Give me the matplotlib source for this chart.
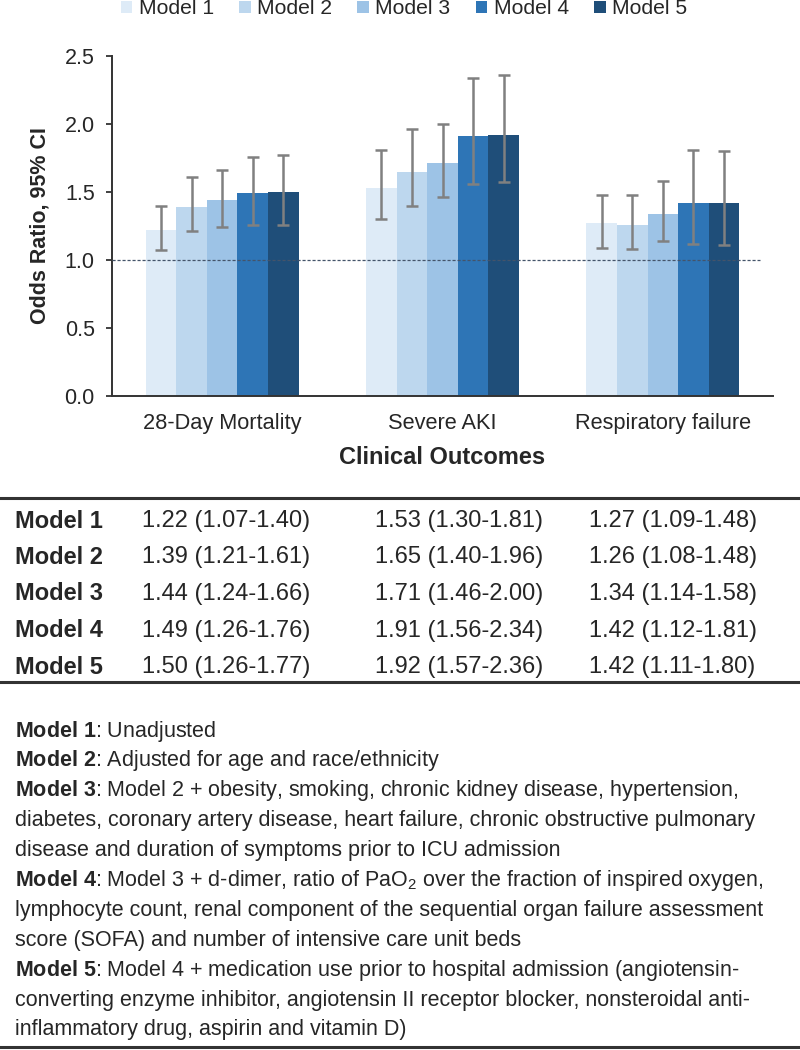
import matplotlib
matplotlib.use("Agg")
import numpy as np
import matplotlib.pyplot as plt
from matplotlib.patches import Patch

plt.rcParams["font.family"] = ["Liberation Sans", "DejaVu Sans"]
plt.rcParams["mathtext.fontset"] = "custom"
plt.rcParams["mathtext.rm"] = "Liberation Sans"
plt.rcParams["mathtext.bf"] = "Liberation Sans:bold"
plt.rcParams["mathtext.it"] = "Liberation Sans:italic"

# ── data ────────────────────────────────────────────────────────────────────
outcomes = ["28-Day Mortality", "Severe AKI", "Respiratory failure"]
models = ["Model 1", "Model 2", "Model 3", "Model 4", "Model 5"]

or_mortality = [1.22, 1.39, 1.44, 1.49, 1.50]
lo_mortality = [1.07, 1.21, 1.24, 1.26, 1.26]
hi_mortality = [1.40, 1.61, 1.66, 1.76, 1.77]

or_aki = [1.53, 1.65, 1.71, 1.91, 1.92]
lo_aki = [1.30, 1.40, 1.46, 1.56, 1.57]
hi_aki = [1.81, 1.96, 2.00, 2.34, 2.36]

or_resp = [1.27, 1.26, 1.34, 1.42, 1.42]
lo_resp = [1.09, 1.08, 1.14, 1.12, 1.11]
hi_resp = [1.48, 1.48, 1.58, 1.81, 1.80]

footnotes = [
    r"$\mathbf{Model\ 1}$: Unadjusted",
    r"$\mathbf{Model\ 2}$: Adjusted for age and race/ethnicity",
    r"$\mathbf{Model\ 3}$: Model 2 + obesity, smoking, chronic kidney disease, hypertension,",
    "diabetes, coronary artery disease, heart failure, chronic obstructive pulmonary",
    "disease and duration of symptoms prior to ICU admission",
    r"$\mathbf{Model\ 4}$: Model 3 + d-dimer, ratio of PaO$_2$ over the fraction of inspired oxygen,",
    "lymphocyte count, renal component of the sequential organ failure assessment",
    "score (SOFA) and number of intensive care unit beds",
    r"$\mathbf{Model\ 5}$: Model 4 + medication use prior to hospital admission (angiotensin-",
    "converting enzyme inhibitor, angiotensin II receptor blocker, nonsteroidal anti-",
    "inflammatory drug, aspirin and vitamin D)",
]

colors = ["#DEEBF7", "#BDD7EE", "#9DC3E6", "#2E75B6", "#1F4E79"]
TXT = "#262626"

or_all = np.array([or_mortality, or_aki, or_resp]).T   # (model, outcome)
lo_all = np.array([lo_mortality, lo_aki, lo_resp]).T
hi_all = np.array([hi_mortality, hi_aki, hi_resp]).T

W, H = 800, 1050
fig = plt.figure(figsize=(W / 100, H / 100), dpi=100)


def fy(y_px):
    return 1 - y_px / H


def fx(x_px):
    return x_px / W


# ── bar chart ───────────────────────────────────────────────────────────────
ax = fig.add_axes([fx(112), fy(396), fx(773) - fx(112), fy(56) - fy(396)])
x = np.arange(len(outcomes))
width = 0.139
for j, m in enumerate(models):
    pos = x + (j - 2) * width
    ax.bar(pos, or_all[j], width=width, color=colors[j], linewidth=0, zorder=2)
    err = [or_all[j] - lo_all[j], hi_all[j] - or_all[j]]
    ax.errorbar(pos, or_all[j], yerr=err, fmt="none", ecolor="#808080",
                elinewidth=1.8, capsize=4, capthick=1.8, zorder=3)

ax.axhline(1.0, xmin=0, xmax=0.98, color="#44546A", linewidth=0.9,
           linestyle=(0, (2.5, 1.5)), zorder=4)

ax.set_xlim(-0.5, 2.5)
ax.set_ylim(0, 2.5)
ax.set_yticks([0.0, 0.5, 1.0, 1.5, 2.0, 2.5])
ax.set_yticklabels([f"{v:.1f}" for v in [0.0, 0.5, 1.0, 1.5, 2.0, 2.5]])
ax.set_xticks(x)
ax.set_xticklabels(outcomes)
ax.tick_params(axis="y", length=4.5, width=1.3, color="#333333", labelsize=15.5,
               labelcolor=TXT, pad=8)
ax.tick_params(axis="x", length=0, labelsize=15.7, labelcolor=TXT, pad=12)
for s in ["top", "right"]:
    ax.spines[s].set_visible(False)
for s in ["left", "bottom"]:
    ax.spines[s].set_color("#333333")
    ax.spines[s].set_linewidth(1.4)
ax.set_ylabel("Odds Ratio, 95% CI", fontsize=15.5, fontweight="bold",
              color=TXT, labelpad=10)
fig.text(fx(442.5), fy(457), "Clinical Outcomes", fontsize=17, fontweight="bold",
         color=TXT, ha="center", va="center")

# legend
handles = [Patch(facecolor=c, edgecolor="none") for c in colors]
fig.legend(handles, models, loc="center", bbox_to_anchor=(fx(404), fy(9)),
           ncol=5, frameon=False, fontsize=15.2, handlelength=0.55,
           handleheight=0.55, handletextpad=0.3, columnspacing=1.2,
           borderpad=0, labelcolor=TXT)

# ── table ───────────────────────────────────────────────────────────────────
fig.add_artist(plt.Line2D([0, 1], [fy(498), fy(498)], color="#333333", linewidth=2.2))
fig.add_artist(plt.Line2D([0, 1], [fy(682), fy(682)], color="#333333", linewidth=2.2))
row_y = [521, 557.5, 594, 630.5, 667]
col_x = [142, 375, 589]
for j, m in enumerate(models):
    fig.text(fx(15), fy(row_y[j]), m, fontsize=17, fontweight="bold",
             color=TXT, va="center", ha="left")
    for k in range(len(outcomes)):
        cell = f"{or_all[j, k]:.2f} ({lo_all[j, k]:.2f}-{hi_all[j, k]:.2f})"
        fig.text(fx(col_x[k]), fy(row_y[j]), cell, fontsize=17, color=TXT,
                 va="center", ha="left")

# ── footnotes ───────────────────────────────────────────────────────────────
for i, line in enumerate(footnotes):
    fig.text(fx(15), fy(731 + 29.9 * i), line, fontsize=15.5, color=TXT,
             va="center", ha="left")
fig.add_artist(plt.Line2D([0, 1], [fy(1047), fy(1047)], color="#333333", linewidth=2.2))

fig.savefig("out.png", dpi=100)
